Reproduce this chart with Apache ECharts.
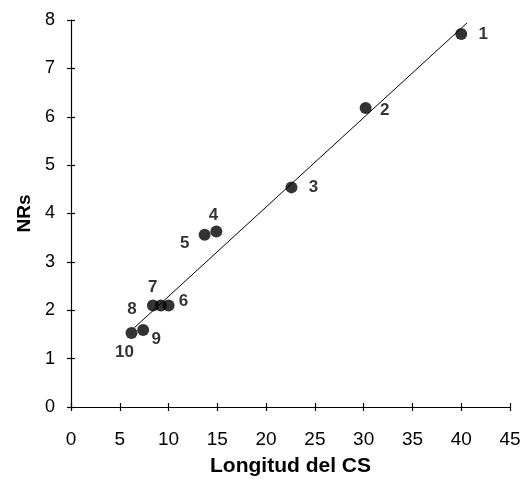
<!DOCTYPE html>
<html>
<head>
<meta charset="utf-8">
<script src="https://cdn.jsdelivr.net/npm/echarts@6/dist/echarts.min.js"></script>
<style>
  html, body { margin: 0; padding: 0; background: #fff; }
  #chart { width: 528px; height: 487px; }
</style>
</head>
<body>
<div id="chart"></div>
<script>
// point ids and values
var pointIds = ['1', '2', '3', '4', '5', '6', '7', '8', '9', '10'];
var longitud = [40.0, 30.2, 22.6, 14.9, 13.7, 10.0, 9.2, 8.4, 7.4, 6.2];
var nrs = [7.71, 6.18, 4.54, 3.63, 3.56, 2.1, 2.1, 2.1, 1.59, 1.53];

// fitted line end points
var trendX = [6.5, 40.6];
var trendY = [1.64, 7.94];

// label offsets (px) from each dot
var labelOffsets = [[22, 0], [19, 2], [22, 0], [-3, -16], [-20, 9], [15, -4], [-8, -18], [-21, 4], [13, 9], [-7, 19]];

var chart = echarts.init(document.getElementById('chart'));

var font = 'Liberation Sans, Arial, sans-serif';

var points = pointIds.map(function (id, i) {
  return {
    name: id,
    value: [longitud[i], nrs[i]],
    label: { offset: labelOffsets[i] }
  };
});

var trend = trendX.map(function (x, i) { return [x, trendY[i]]; });

var option = {
  backgroundColor: '#fff',
  animation: false,
  grid: { left: 71, right: 18, top: 20, bottom: 80 },
  xAxis: [{
    type: 'value',
    min: 0, max: 45, interval: 5,
    name: 'Longitud del CS',
    nameLocation: 'middle',
    nameGap: 49,
    nameTextStyle: { fontFamily: font, fontSize: 21, fontWeight: 'bold', color: '#000' },
    axisLine: { onZero: false, lineStyle: { color: '#000', width: 1.2 } },
    axisTick: { show: true, length: 4, lineStyle: { color: '#000', width: 1.2 } },
    axisLabel: { fontFamily: font, fontSize: 19, color: '#000', margin: 23 },
    splitLine: { show: false }
  }, {
    type: 'value',
    position: 'bottom',
    min: 0, max: 45, interval: 5,
    axisLine: { show: false },
    axisTick: { show: true, inside: true, length: 4, lineStyle: { color: '#000', width: 1.2 } },
    axisLabel: { show: false },
    splitLine: { show: false }
  }],
  yAxis: [{
    type: 'value',
    min: 0, max: 8, interval: 1,
    name: 'NRs',
    nameLocation: 'middle',
    nameGap: 37,
    nameTextStyle: { fontFamily: font, fontSize: 19, fontWeight: 'bold', color: '#000' },
    axisLine: { onZero: false, lineStyle: { color: '#000', width: 1.2 } },
    axisTick: { show: true, length: 4, lineStyle: { color: '#000', width: 1.2 } },
    axisLabel: { fontFamily: font, fontSize: 18, color: '#000', margin: 16 },
    splitLine: { show: false }
  }, {
    type: 'value',
    position: 'left',
    min: 0, max: 8, interval: 1,
    axisLine: { show: false },
    axisTick: { show: true, inside: true, length: 4, lineStyle: { color: '#000', width: 1.2 } },
    axisLabel: { show: false },
    splitLine: { show: false }
  }],
  series: [{
    type: 'line',
    data: trend,
    symbol: 'none',
    lineStyle: { color: '#000', width: 1 },
    z: 1
  }, {
    type: 'scatter',
    data: points,
    symbol: 'circle',
    symbolSize: 12,
    itemStyle: { color: '#000' },
    label: {
      show: true,
      position: 'inside',
      formatter: '{b}',
      fontFamily: font,
      fontSize: 17,
      fontWeight: 'bold',
      color: '#000',
      textBorderWidth: 0
    },
    z: 2
  }]
};

chart.setOption(option);
</script>
</body>
</html>
